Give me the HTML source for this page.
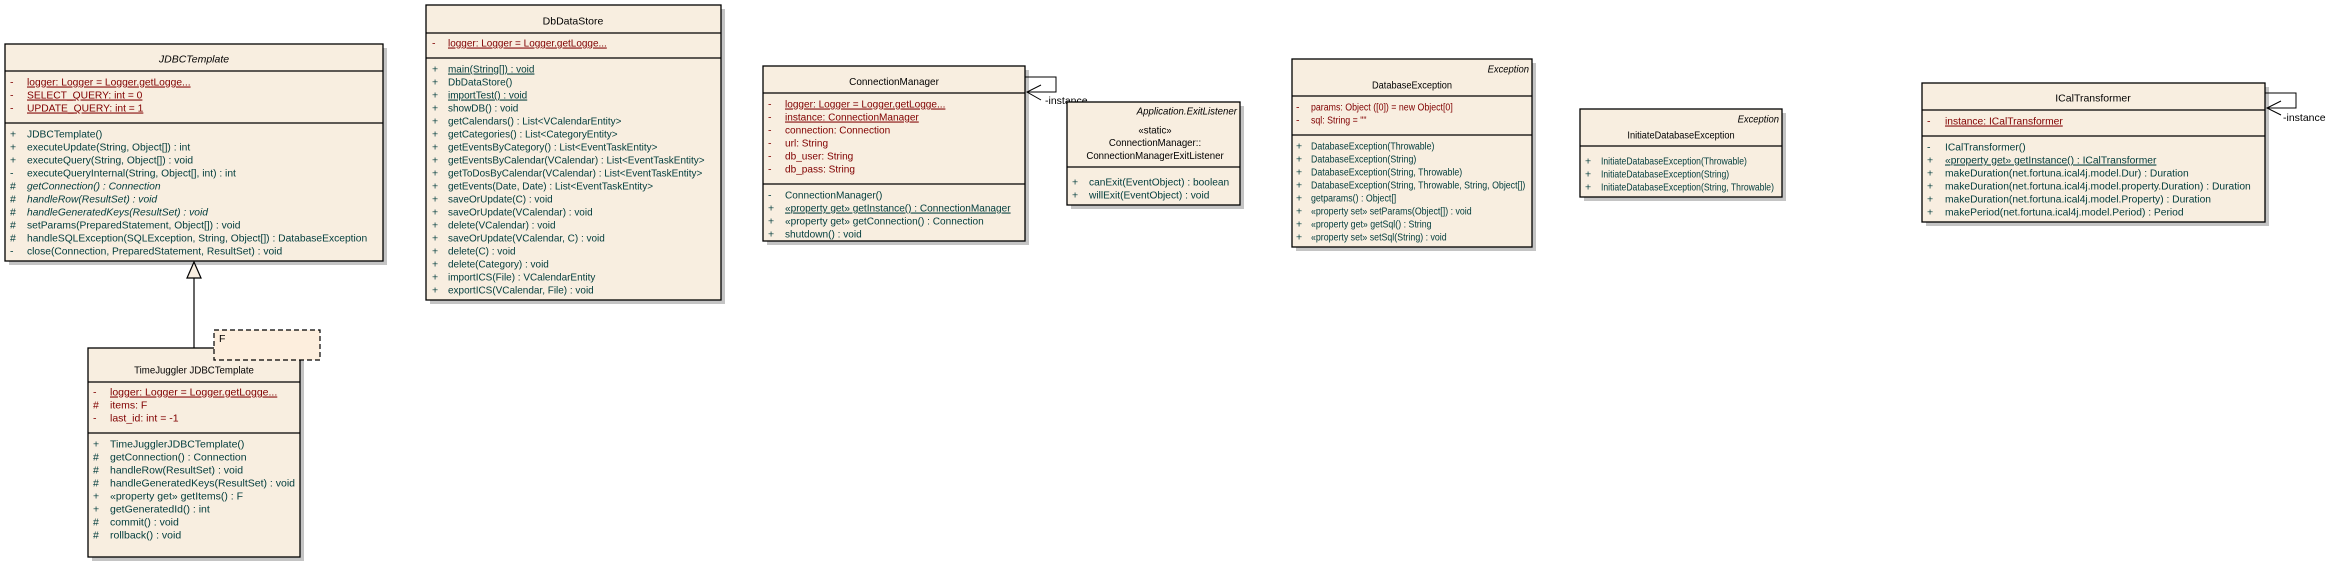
<!DOCTYPE html>
<html><head><meta charset="utf-8"><style>
html,body{margin:0;padding:0;background:#fff;}
svg{display:block;}
text{font-family:"Liberation Sans",sans-serif;font-size:10.5px;}
.a{fill:#800000;} .m{fill:#003c3c;} .t{fill:#000;} .i{font-style:italic;}
.u{text-decoration:underline;}
.box{fill:#f8eee0;stroke:#000;stroke-width:1.3;}
.sh{fill:#c4c4c4;}
.d{stroke:#000;stroke-width:1.2;}
</style></head><body>
<svg width="2341" height="563" viewBox="0 0 2341 563" xmlns="http://www.w3.org/2000/svg">
<!-- JDBCTemplate -->
<rect class="sh" x="9" y="48" width="378" height="217"/>
<rect class="box" x="5" y="44" width="378" height="217"/>
<line class="d" x1="5" y1="71" x2="383" y2="71"/><line class="d" x1="5" y1="123" x2="383" y2="123"/>
<g transform="translate(194,0)"><text class="t i" x="0" y="62.5" text-anchor="middle">JDBCTemplate</text></g>
<g class="a"><text x="10" y="85.5">-</text><text x="10" y="98.5">-</text><text x="10" y="111.5">-</text></g>
<g class="m"><text x="10" y="137.5">+</text><text x="10" y="150.5">+</text><text x="10" y="163.5">+</text><text x="10" y="176.5">-</text><text x="10" y="189.5">#</text><text x="10" y="202.5">#</text><text x="10" y="215.5">#</text><text x="10" y="228.5">#</text><text x="10" y="241.5">#</text><text x="10" y="254.5">-</text></g>
<g transform="translate(27,0) scale(0.98,1)">
<text class="a u" y="85.5">logger:  Logger = Logger.getLogge...</text>
<text class="a u" y="98.5">SELECT_QUERY:  int = 0</text>
<text class="a u" y="111.5">UPDATE_QUERY:  int = 1</text>
<text class="m" y="137.5">JDBCTemplate()</text>
<text class="m" y="150.5">executeUpdate(String, Object[]) : int</text>
<text class="m" y="163.5">executeQuery(String, Object[]) : void</text>
<text class="m" y="176.5">executeQueryInternal(String, Object[], int) : int</text>
<text class="m i" y="189.5">getConnection() : Connection</text>
<text class="m i" y="202.5">handleRow(ResultSet) : void</text>
<text class="m i" y="215.5">handleGeneratedKeys(ResultSet) : void</text>
<text class="m" y="228.5">setParams(PreparedStatement, Object[]) : void</text>
<text class="m" y="241.5">handleSQLException(SQLException, String, Object[]) : DatabaseException</text>
<text class="m" y="254.5">close(Connection, PreparedStatement, ResultSet) : void</text>
</g>
<!-- generalization -->
<line class="d" x1="194" y1="278" x2="194" y2="348"/>
<polygon points="194,262 187,278 201,278" fill="#f8eee0" stroke="#000" stroke-width="1.2"/>
<!-- TimeJuggler -->
<rect class="sh" x="92" y="352" width="212" height="209"/>
<rect class="box" x="88" y="348" width="212" height="209"/>
<line class="d" x1="88" y1="382" x2="300" y2="382"/><line class="d" x1="88" y1="433" x2="300" y2="433"/>
<rect x="214" y="330" width="106" height="30" fill="#fdeedd" stroke="#000" stroke-width="1.2" stroke-dasharray="5,3"/>
<text class="t" x="219" y="342">F</text>
<g transform="translate(194,0) scale(0.92,1)"><text class="t" x="0" y="373.5" text-anchor="middle">TimeJuggler JDBCTemplate</text></g>
<g class="a"><text x="93" y="395.5">-</text><text x="93" y="408.5">#</text><text x="93" y="421.5">-</text></g>
<g class="m"><text x="93" y="447.5">+</text><text x="93" y="460.5">#</text><text x="93" y="473.5">#</text><text x="93" y="486.5">#</text><text x="93" y="499.5">+</text><text x="93" y="512.5">+</text><text x="93" y="525.5">#</text><text x="93" y="538.5">#</text></g>
<g transform="translate(110,0)">
<text class="a u" y="395.5">logger:  Logger = Logger.getLogge...</text>
<text class="a" y="408.5">items:  F</text>
<text class="a" y="421.5">last_id:  int = -1</text>
<text class="m" y="447.5">TimeJugglerJDBCTemplate()</text>
<text class="m" y="460.5">getConnection() : Connection</text>
<text class="m" y="473.5">handleRow(ResultSet) : void</text>
<text class="m" y="486.5">handleGeneratedKeys(ResultSet) : void</text>
<text class="m" y="499.5">«property get» getItems() : F</text>
<text class="m" y="512.5">getGeneratedId() : int</text>
<text class="m" y="525.5">commit() : void</text>
<text class="m" y="538.5">rollback() : void</text>
</g>
<!-- DbDataStore -->
<rect class="sh" x="430" y="9" width="295" height="295"/>
<rect class="box" x="426" y="5" width="295" height="295"/>
<line class="d" x1="426" y1="33" x2="721" y2="33"/><line class="d" x1="426" y1="58" x2="721" y2="58"/>
<g transform="translate(573,0)"><text class="t" x="0" y="24.5" text-anchor="middle">DbDataStore</text></g>
<text class="a" x="432" y="46.5">-</text>
<g class="m">
<text x="432" y="72.5">+</text><text x="432" y="85.5">+</text><text x="432" y="98.5">+</text><text x="432" y="111.5">+</text><text x="432" y="124.5">+</text><text x="432" y="137.5">+</text><text x="432" y="150.5">+</text><text x="432" y="163.5">+</text><text x="432" y="176.5">+</text><text x="432" y="189.5">+</text><text x="432" y="202.5">+</text><text x="432" y="215.5">+</text><text x="432" y="228.5">+</text><text x="432" y="241.5">+</text><text x="432" y="254.5">+</text><text x="432" y="267.5">+</text><text x="432" y="280.5">+</text><text x="432" y="293.5">+</text></g>
<g transform="translate(448,0) scale(0.95,1)">
<text class="a u" y="46.5">logger:  Logger = Logger.getLogge...</text>
<text class="m u" y="72.5">main(String[]) : void</text>
<text class="m" y="85.5">DbDataStore()</text>
<text class="m u" y="98.5">importTest() : void</text>
<text class="m" y="111.5">showDB() : void</text>
<text class="m" y="124.5">getCalendars() : List&lt;VCalendarEntity&gt;</text>
<text class="m" y="137.5">getCategories() : List&lt;CategoryEntity&gt;</text>
<text class="m" y="150.5">getEventsByCategory() : List&lt;EventTaskEntity&gt;</text>
<text class="m" y="163.5">getEventsByCalendar(VCalendar) : List&lt;EventTaskEntity&gt;</text>
<text class="m" y="176.5">getToDosByCalendar(VCalendar) : List&lt;EventTaskEntity&gt;</text>
<text class="m" y="189.5">getEvents(Date, Date) : List&lt;EventTaskEntity&gt;</text>
<text class="m" y="202.5">saveOrUpdate(C) : void</text>
<text class="m" y="215.5">saveOrUpdate(VCalendar) : void</text>
<text class="m" y="228.5">delete(VCalendar) : void</text>
<text class="m" y="241.5">saveOrUpdate(VCalendar, C) : void</text>
<text class="m" y="254.5">delete(C) : void</text>
<text class="m" y="267.5">delete(Category) : void</text>
<text class="m" y="280.5">importICS(File) : VCalendarEntity</text>
<text class="m" y="293.5">exportICS(VCalendar, File) : void</text>
</g>
<!-- ConnectionManager -->
<rect class="sh" x="767" y="70" width="262" height="175"/>
<rect class="box" x="763" y="66" width="262" height="175"/>
<line class="d" x1="763" y1="93" x2="1025" y2="93"/><line class="d" x1="763" y1="184" x2="1025" y2="184"/>
<g transform="translate(894,0) scale(0.95,1)"><text class="t" x="0" y="85" text-anchor="middle">ConnectionManager</text></g>
<g class="a"><text x="768" y="107.5">-</text><text x="768" y="120.5">-</text><text x="768" y="133.5">-</text><text x="768" y="146.5">-</text><text x="768" y="159.5">-</text><text x="768" y="172.5">-</text></g>
<g class="m"><text x="768" y="198.5">-</text><text x="768" y="211.5">+</text><text x="768" y="224.5">+</text><text x="768" y="237.5">+</text></g>
<g transform="translate(785,0) scale(0.96,1)">
<text class="a u" y="107.5">logger:  Logger = Logger.getLogge...</text>
<text class="a u" y="120.5">instance:  ConnectionManager</text>
<text class="a" y="133.5">connection:  Connection</text>
<text class="a" y="146.5">url:  String</text>
<text class="a" y="159.5">db_user:  String</text>
<text class="a" y="172.5">db_pass:  String</text>
<text class="m" y="198.5">ConnectionManager()</text>
<text class="m u" y="211.5">«property get» getInstance() : ConnectionManager</text>
<text class="m" y="224.5">«property get» getConnection() : Connection</text>
<text class="m" y="237.5">shutdown() : void</text>
</g>
<polyline points="1025,77 1056,77 1056,92 1027,92" fill="none" stroke="#000" stroke-width="1"/>
<polyline points="1041,85 1027,92 1041,100" fill="none" stroke="#000" stroke-width="1"/>
<rect x="1044" y="95" width="24" height="11" fill="#fff"/>
<text class="t" x="1045" y="104">-instance</text>
<!-- ExitListener -->
<rect class="sh" x="1071" y="106" width="173" height="103"/>
<rect class="box" x="1067" y="102" width="173" height="103"/>
<line class="d" x1="1067" y1="167" x2="1240" y2="167"/>
<g transform="translate(1237,0) scale(0.92,1)"><text class="t i" x="0" y="114.5" text-anchor="end">Application.ExitListener</text></g>
<g transform="translate(1155,0) scale(0.92,1)">
<text class="t" x="0" y="133.5" text-anchor="middle">«static»</text>
<text class="t" x="0" y="146" text-anchor="middle">ConnectionManager::</text>
<text class="t" x="0" y="159" text-anchor="middle">ConnectionManagerExitListener</text></g>
<g class="m"><text x="1072" y="185.5">+</text><text x="1072" y="198.5">+</text></g>
<g transform="translate(1089,0) scale(0.97,1)">
<text class="m" y="185.5">canExit(EventObject) : boolean</text>
<text class="m" y="198.5">willExit(EventObject) : void</text></g>
<!-- DatabaseException -->
<rect class="sh" x="1296" y="63" width="240" height="188"/>
<rect class="box" x="1292" y="59" width="240" height="188"/>
<line class="d" x1="1292" y1="96" x2="1532" y2="96"/><line class="d" x1="1292" y1="135" x2="1532" y2="135"/>
<g transform="translate(1529,0) scale(0.9,1)"><text class="t i" x="0" y="72.5" text-anchor="end">Exception</text></g>
<g transform="translate(1412,0) scale(0.88,1)"><text class="t" x="0" y="88.5" text-anchor="middle">DatabaseException</text></g>
<g class="a"><text x="1296" y="110.5">-</text><text x="1296" y="123.5">-</text></g>
<g class="m"><text x="1296" y="149.5">+</text><text x="1296" y="162.5">+</text><text x="1296" y="175.5">+</text><text x="1296" y="188.5">+</text><text x="1296" y="201.5">+</text><text x="1296" y="214.5">+</text><text x="1296" y="227.5">+</text><text x="1296" y="240.5">+</text></g>
<g transform="translate(1311,0) scale(0.84,1)">
<text class="a" y="110.5">params:  Object ([0]) = new Object[0]</text>
<text class="a" y="123.5">sql:  String = ""</text>
<text class="m" y="149.5">DatabaseException(Throwable)</text>
<text class="m" y="162.5">DatabaseException(String)</text>
<text class="m" y="175.5">DatabaseException(String, Throwable)</text>
<text class="m" y="188.5">DatabaseException(String, Throwable, String, Object[])</text>
<text class="m" y="201.5">getparams() : Object[]</text>
<text class="m" y="214.5">«property set» setParams(Object[]) : void</text>
<text class="m" y="227.5">«property get» getSql() : String</text>
<text class="m" y="240.5">«property set» setSql(String) : void</text>
</g>
<!-- InitiateDatabaseException -->
<rect class="sh" x="1584" y="113" width="202" height="88"/>
<rect class="box" x="1580" y="109" width="202" height="88"/>
<line class="d" x1="1580" y1="146" x2="1782" y2="146"/>
<g transform="translate(1779,0) scale(0.9,1)"><text class="t i" x="0" y="122.5" text-anchor="end">Exception</text></g>
<g transform="translate(1681,0) scale(0.88,1)"><text class="t" x="0" y="138.5" text-anchor="middle">InitiateDatabaseException</text></g>
<g class="m"><text x="1585" y="164.5">+</text><text x="1585" y="177.5">+</text><text x="1585" y="190.5">+</text></g>
<g transform="translate(1601,0) scale(0.82,1)">
<text class="m" y="164.5">InitiateDatabaseException(Throwable)</text>
<text class="m" y="177.5">InitiateDatabaseException(String)</text>
<text class="m" y="190.5">InitiateDatabaseException(String, Throwable)</text></g>
<!-- ICalTransformer -->
<rect class="sh" x="1926" y="87" width="343" height="139"/>
<rect class="box" x="1922" y="83" width="343" height="139"/>
<line class="d" x1="1922" y1="110" x2="2265" y2="110"/><line class="d" x1="1922" y1="136" x2="2265" y2="136"/>
<g transform="translate(2093,0)"><text class="t" x="0" y="101.5" text-anchor="middle">ICalTransformer</text></g>
<text class="a" x="1927" y="124.5">-</text>
<g class="m"><text x="1927" y="150.5">-</text><text x="1927" y="163.5">+</text><text x="1927" y="176.5">+</text><text x="1927" y="189.5">+</text><text x="1927" y="202.5">+</text><text x="1927" y="215.5">+</text></g>
<g transform="translate(1945,0) scale(0.98,1)">
<text class="a u" y="124.5">instance:  ICalTransformer</text>
<text class="m" y="150.5">ICalTransformer()</text>
<text class="m u" y="163.5">«property get» getInstance() : ICalTransformer</text>
<text class="m" y="176.5">makeDuration(net.fortuna.ical4j.model.Dur) : Duration</text>
<text class="m" y="189.5">makeDuration(net.fortuna.ical4j.model.property.Duration) : Duration</text>
<text class="m" y="202.5">makeDuration(net.fortuna.ical4j.model.Property) : Duration</text>
<text class="m" y="215.5">makePeriod(net.fortuna.ical4j.model.Period) : Period</text>
</g>
<polyline points="2265,93 2296,93 2296,108 2267,108" fill="none" stroke="#000" stroke-width="1"/>
<polyline points="2281,101 2267,108 2281,115" fill="none" stroke="#000" stroke-width="1"/>
<text class="t" x="2283" y="121">-instance</text>
</svg>
</body></html>
